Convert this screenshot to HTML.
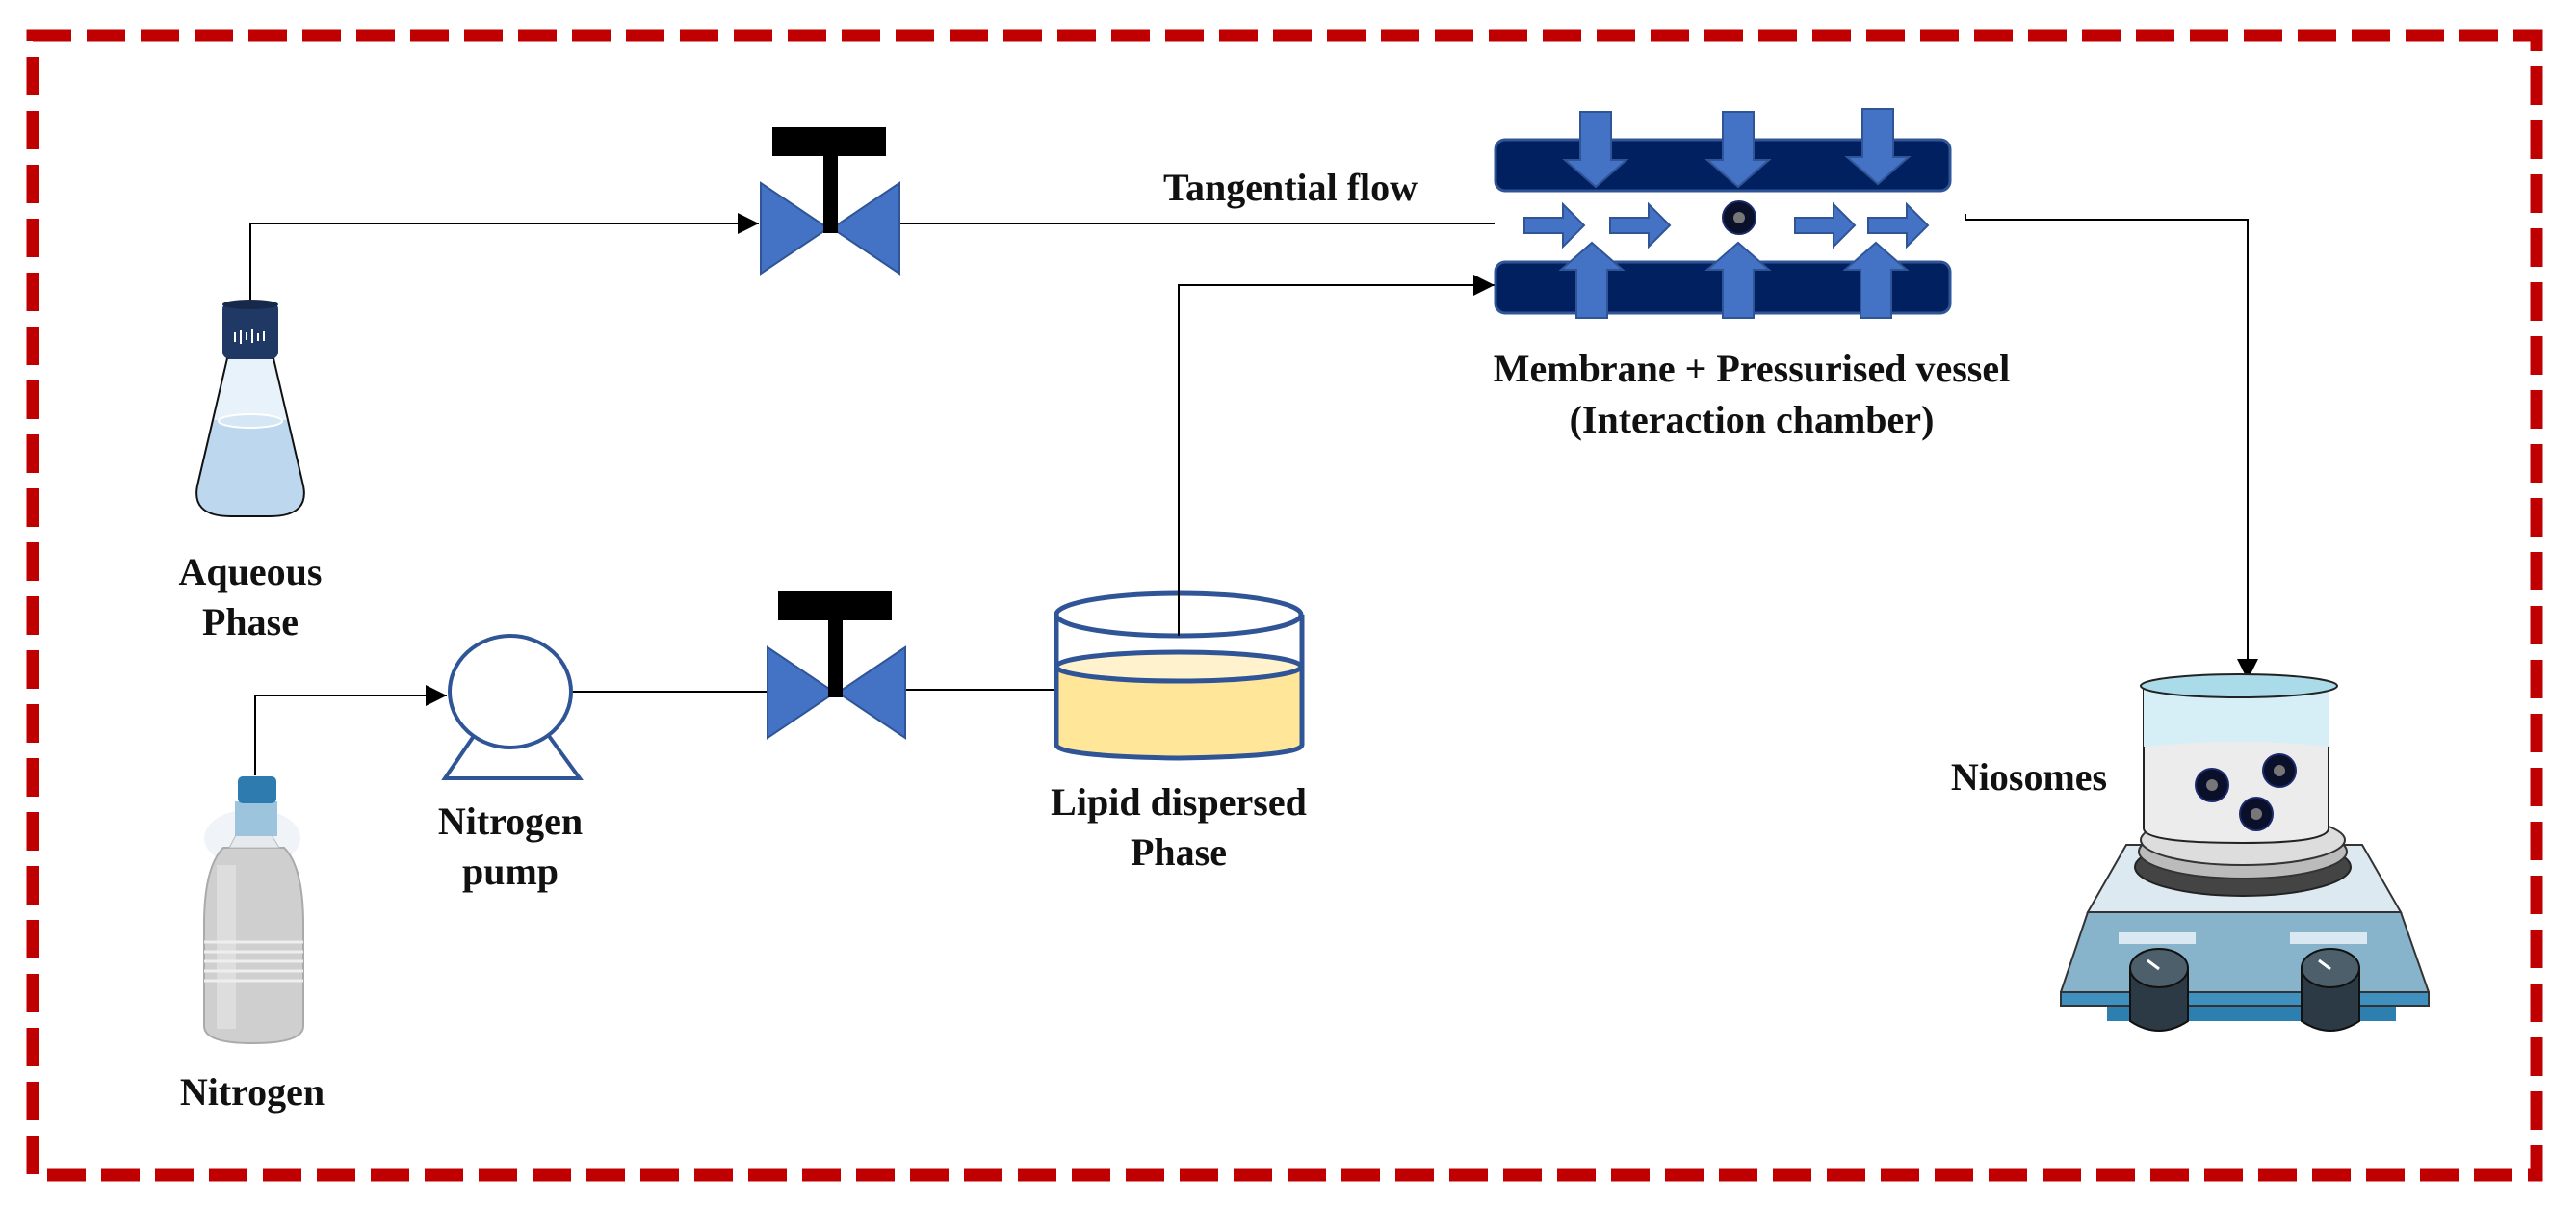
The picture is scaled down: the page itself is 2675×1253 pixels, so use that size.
<!DOCTYPE html>
<html><head><meta charset="utf-8"><style>
html,body{margin:0;padding:0;background:#fff}
svg{display:block}
text{font-family:"Liberation Serif",serif;font-weight:bold;fill:#111;font-size:40px;text-anchor:middle}
</style></head><body>
<svg width="2675" height="1253" viewBox="0 0 2675 1253" xmlns="http://www.w3.org/2000/svg">
<defs>
<marker id="ah2" viewBox="0 0 10 10" refX="10" refY="5" markerWidth="24" markerHeight="22" orient="auto" markerUnits="userSpaceOnUse"><path d="M0,0 L10,5 L0,10z" fill="#000"/></marker>
<g id="dn"><path d="M-16,0 H16 V50 H32 L0,78 L-32,50 H-16Z" fill="#4472c4" stroke="#2f5597" stroke-width="2"/></g>
<g id="rt"><path d="M0,-8 H40 V-22 L62,0 L40,22 V8 H0Z" fill="#4472c4" stroke="#2f5597" stroke-width="2"/></g>
<g id="np"><circle r="17" fill="#0a0f2a" stroke="#1b2a6b" stroke-width="2"/><circle r="6" fill="#777"/></g>
<clipPath id="fl"><path d="M236,372 L206,500 Q196,536 240,536 L280,536 Q324,536 314,500 L284,372Z"/></clipPath>
</defs>
<rect x="34" y="37" width="2600" height="1183" fill="none" stroke="#c00000" stroke-width="13" stroke-dasharray="40,16"/>

<g stroke="#000" stroke-width="2" fill="none">
<path d="M260,312 V232 H788" marker-end="url(#ah2)"/>
<path d="M934,232 H1552"/>
<path d="M1224,660 V296 H1552" marker-end="url(#ah2)"/>
<path d="M265,805 V722 H464" marker-end="url(#ah2)"/>
<path d="M594,718 H797"/>
<path d="M940,716 H1097"/>
<path d="M2041,222 V228 H2334 V706" marker-end="url(#ah2)"/>
</g>

<polygon points="790,190 860,237 790,284" fill="#4472c4" stroke="#2f5597" stroke-width="2"/>
<polygon points="934,190 864,237 934,284" fill="#4472c4" stroke="#2f5597" stroke-width="2"/>
<rect x="802" y="132" width="118" height="30" fill="#000"/>
<rect x="855" y="160" width="15" height="82" fill="#000"/>
<polygon points="797,672 867,719 797,766" fill="#4472c4" stroke="#2f5597" stroke-width="2"/>
<polygon points="940,672 870,719 940,766" fill="#4472c4" stroke="#2f5597" stroke-width="2"/>
<rect x="808" y="614" width="118" height="30" fill="#000"/>
<rect x="860" y="642" width="15" height="82" fill="#000"/>

<path d="M236,372 L206,500 Q196,536 240,536 L280,536 Q324,536 314,500 L284,372Z" fill="#e8f2fa"/>
<g clip-path="url(#fl)"><rect x="190" y="436" width="140" height="110" fill="#bcd7ee"/></g>
<ellipse cx="260" cy="437" rx="33" ry="7" fill="#d5e6f4" stroke="#fff" stroke-width="2"/>
<path d="M236,372 L206,500 Q196,536 240,536 L280,536 Q324,536 314,500 L284,372Z" fill="none" stroke="#111" stroke-width="2"/>
<rect x="231" y="313" width="58" height="60" rx="8" fill="#1f3864"/>
<ellipse cx="260" cy="316" rx="29" ry="5" fill="#16294b"/>
<path d="M244,345 v10 M250,343 v14 M256,345 v8 M262,342 v14 M268,346 v8 M274,344 v10" stroke="#fff" stroke-width="2"/>
<text x="260" y="607">Aqueous</text>
<text x="260" y="659">Phase</text>

<ellipse cx="262" cy="870" rx="50" ry="30" fill="#eef2f6" opacity="0.9"/>
<path d="M232,880 Q212,900 212,960 V1065 Q212,1083 262,1083 Q315,1083 315,1065 V960 Q315,900 295,880Z" fill="#cfcfcf" stroke="#aaa" stroke-width="2"/>
<rect x="225" y="898" width="20" height="170" fill="#e2e2e2" opacity="0.7"/>
<g stroke="#eee" stroke-width="3"><path d="M212,978 H315 M212,988 H315 M212,998 H315 M212,1008 H315 M212,1018 H315"/></g>
<path d="M238,880 L245,867 H282 L290,880Z" fill="#e6eaee" stroke="#bbb"/>
<rect x="244" y="832" width="44" height="36" fill="#9cc4dc"/>
<rect x="247" y="806" width="40" height="28" rx="5" fill="#2e7bb0"/>
<text x="262" y="1147">Nitrogen</text>

<ellipse cx="530" cy="718" rx="63" ry="58" fill="#fff" stroke="#2f5597" stroke-width="4"/>
<path d="M492,764 L462,808 H602 L570,764" fill="none" stroke="#2f5597" stroke-width="4"/>
<text x="530" y="866">Nitrogen</text>
<text x="530" y="918">pump</text>

<path d="M1097,638 V773 Q1097,785 1224,787 Q1352,785 1352,773 V638" fill="#ffe699" stroke="#2f5597" stroke-width="5"/>
<path d="M1097,638 V692 H1352 V638Z" fill="#fff"/>
<path d="M1097,638 V692 M1352,638 V692" stroke="#2f5597" stroke-width="5"/>
<ellipse cx="1224" cy="692" rx="127" ry="15" fill="#fff2cc" stroke="#2f5597" stroke-width="5"/>
<ellipse cx="1224" cy="638" rx="127" ry="22" fill="none" stroke="#2f5597" stroke-width="5"/>
<line x1="1224" y1="660" x2="1224" y2="600" stroke="#000" stroke-width="2"/>
<text x="1224" y="846">Lipid dispersed</text>
<text x="1224" y="898">Phase</text>

<text x="1340" y="208">Tangential flow</text>
<rect x="1553" y="145" width="472" height="53" rx="10" fill="#002060" stroke="#2f5597" stroke-width="3"/>
<rect x="1553" y="272" width="472" height="53" rx="10" fill="#002060" stroke="#2f5597" stroke-width="3"/>
<use href="#dn" x="1657" y="116"/>
<use href="#dn" x="1805" y="116"/>
<use href="#dn" x="1950" y="113"/>
<use href="#dn" transform="translate(1653,330) scale(1,-1)"/>
<use href="#dn" transform="translate(1805,330) scale(1,-1)"/>
<use href="#dn" transform="translate(1948,330) scale(1,-1)"/>
<use href="#rt" x="1583" y="234"/>
<use href="#rt" x="1672" y="234"/>
<use href="#rt" x="1864" y="234"/>
<use href="#rt" x="1940" y="234"/>
<use href="#np" x="1806" y="226"/>
<text x="1819" y="396">Membrane + Pressurised vessel</text>
<text x="1819" y="449">(Interaction chamber)</text>

<text x="2107" y="820">Niosomes</text>
<rect x="2188" y="1030" width="300" height="30" fill="#2d7fb0"/>
<path d="M2208,877 H2453 L2493,947 H2168Z" fill="#dde9f1" stroke="#333" stroke-width="2"/>
<path d="M2168,947 H2493 L2522,1030 V1043 H2140 V1030Z" fill="#87b3cb" stroke="#333" stroke-width="2"/>
<rect x="2140" y="1030" width="382" height="14" fill="#3f8fbf" stroke="#333" stroke-width="2"/>
<rect x="2200" y="968" width="80" height="12" fill="#d9e8f1"/>
<rect x="2378" y="968" width="80" height="12" fill="#d9e8f1"/>
<ellipse cx="2329" cy="900" rx="112" ry="30" fill="#444" stroke="#222" stroke-width="2"/>
<ellipse cx="2329" cy="884" rx="108" ry="28" fill="#bbb" stroke="#333" stroke-width="2"/>
<ellipse cx="2329" cy="872" rx="106" ry="26" fill="#ddd" stroke="#333" stroke-width="2"/>
<path d="M2226,712 V860 Q2226,875 2329,875 Q2418,875 2418,860 V712" fill="#ececec" stroke="#222" stroke-width="2"/>
<path d="M2226,712 V775 Q2329,765 2418,775 V712Z" fill="#d6eef6"/>
<ellipse cx="2325" cy="712" rx="102" ry="12" fill="#a9dbe9" stroke="#222" stroke-width="2"/>
<use href="#np" x="2297" y="815"/>
<use href="#np" x="2367" y="800"/>
<use href="#np" x="2343" y="845"/>
<g fill="#2b3a44" stroke="#111" stroke-width="2">
<path d="M2212,1005 V1060 Q2242,1080 2272,1060 V1005Z"/><ellipse cx="2242" cy="1005" rx="30" ry="20" fill="#4c5f6b"/>
<path d="M2390,1005 V1060 Q2420,1080 2450,1060 V1005Z"/><ellipse cx="2420" cy="1005" rx="30" ry="20" fill="#4c5f6b"/>
</g>
<path d="M2230,997 l12,9 M2408,997 l12,9" stroke="#fff" stroke-width="3"/>
</svg>
</body></html>
